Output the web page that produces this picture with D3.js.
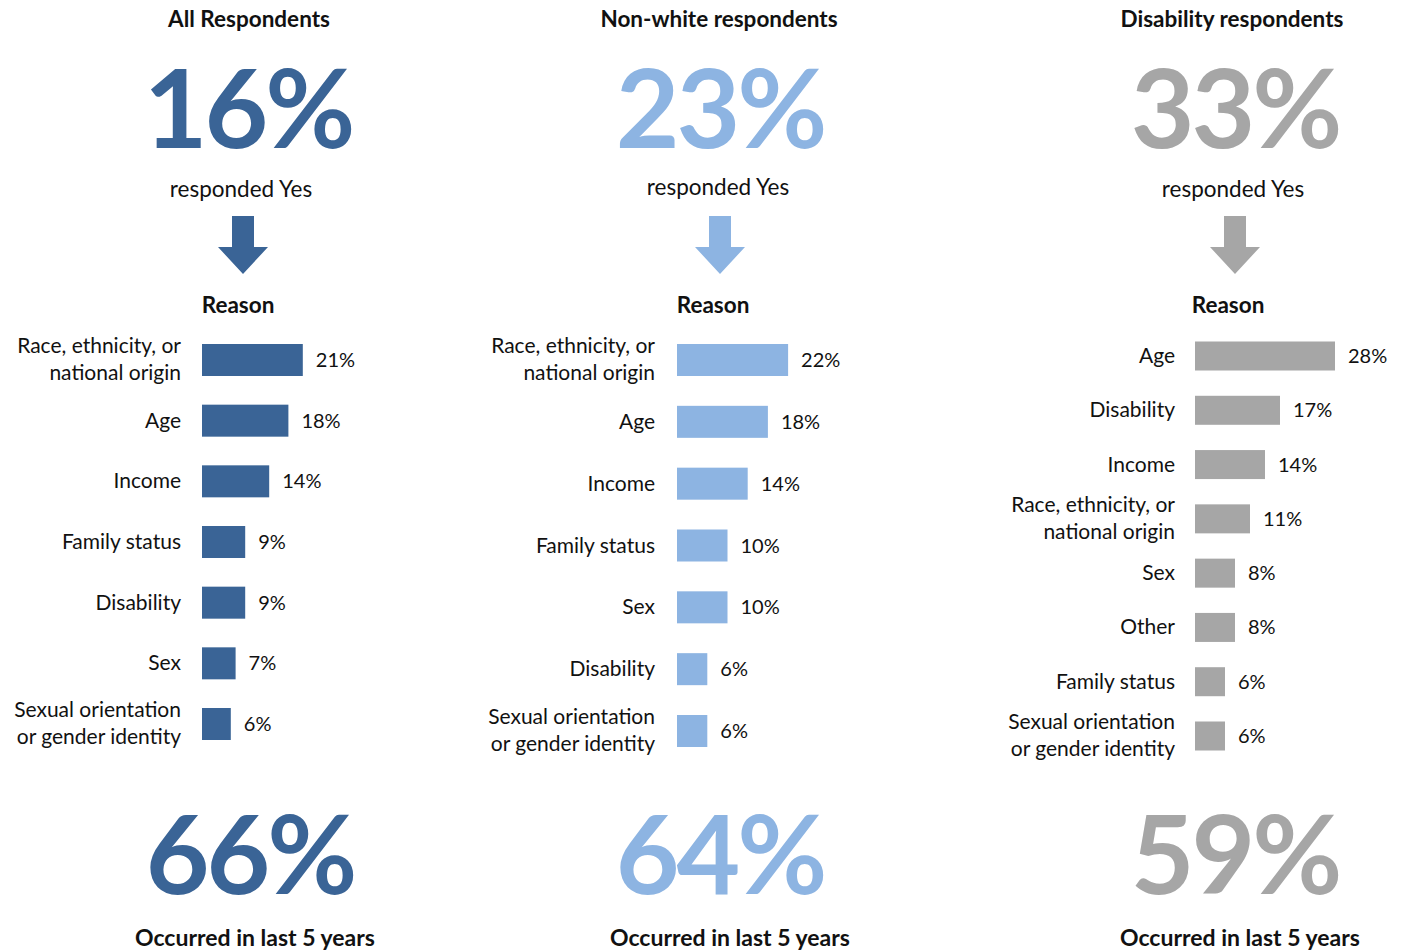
<!DOCTYPE html>
<html>
<head>
<meta charset="utf-8">
<script src="https://cdn.jsdelivr.net/npm/d3@7"></script>
<style>
  body { margin: 0; background: #fff; }
  svg { display: block; font-family: Lato, 'Open Sans', sans-serif; }
</style>
</head>
<body>
<svg id="chart" width="1403" height="952"></svg>
<script>
// survey groups
const titles = ['All Respondents', 'Non-white respondents', 'Disability respondents']
const respondedYes = [16, 23, 33]
const lastFiveYears = [66, 64, 59]
const colors = ['#3a6496', '#8db4e2', '#a6a6a6']

// reasons per group (label line breaks with \n)
const reasonsAll = ['Race, ethnicity, or\nnational origin', 'Age', 'Income', 'Family status', 'Disability', 'Sex', 'Sexual orientation\nor gender identity']
const valuesAll = [21, 18, 14, 9, 9, 7, 6]

const reasonsNonWhite = ['Race, ethnicity, or\nnational origin', 'Age', 'Income', 'Family status', 'Sex', 'Disability', 'Sexual orientation\nor gender identity']
const valuesNonWhite = [22, 18, 14, 10, 10, 6, 6]

const reasonsDisability = ['Age', 'Disability', 'Income', 'Race, ethnicity, or\nnational origin', 'Sex', 'Other', 'Family status', 'Sexual orientation\nor gender identity']
const valuesDisability = [28, 17, 14, 11, 8, 8, 6, 6]

const reasons = [reasonsAll, reasonsNonWhite, reasonsDisability]
const values = [valuesAll, valuesNonWhite, valuesDisability]

// layout of each panel
const layout = [
  { title: 249, big: 248, yes: 241, arrow: 243, reason: 238, bottom: 250, occ: 255, labelX: 181, barX: 202, pxPerPct: 4.8, rows: [360, 724], barH: 32 },
  { title: 719, big: 720, yes: 718, arrow: 720, reason: 713, bottom: 720, occ: 730, labelX: 655, barX: 677, pxPerPct: 5.05, rows: [360, 731], barH: 32 },
  { title: 1232, big: 1235, yes: 1233, arrow: 1235, reason: 1228, bottom: 1235, occ: 1240, labelX: 1175, barX: 1195, pxPerPct: 5.0, rows: [356, 736], barH: 29 }
]

const svg = d3.select('#chart')

/** Draw one of the three panels */
function drawPanel (i) {
  const L = layout[i]
  const g = svg.append('g')

  g.append('text')
    .attr('x', L.title).attr('y', 27)
    .attr('text-anchor', 'middle')
    .attr('font-size', 22.5).attr('font-weight', 700).attr('fill', '#111')
    .text(titles[i])

  g.append('text')
    .attr('x', L.big).attr('y', 148)
    .attr('text-anchor', 'middle')
    .attr('font-size', 110).attr('font-weight', 700).attr('fill', colors[i])
    .attr('letter-spacing', -3)
    .text(respondedYes[i] + '%')

  g.append('text')
    .attr('x', L.yes).attr('y', i === 1 ? 195 : 197)
    .attr('text-anchor', 'middle')
    .attr('font-size', 22.5).attr('fill', '#111')
    .text('responded Yes')

  // down arrow
  const ax = L.arrow
  g.append('path')
    .attr('d', `M${ax - 11},216 H${ax + 11} V247 H${ax + 25} L${ax},274 L${ax - 25},247 H${ax - 11} Z`)
    .attr('fill', colors[i])

  g.append('text')
    .attr('x', L.reason).attr('y', 313)
    .attr('text-anchor', 'middle')
    .attr('font-size', 22.5).attr('font-weight', 700).attr('fill', '#111')
    .text('Reason')

  const y = d3.scalePoint().domain(d3.range(values[i].length)).range(L.rows)
  const x = d3.scaleLinear().domain([0, 30]).range([L.barX, L.barX + 30 * L.pxPerPct])

  const rows = g.selectAll('g.row')
    .data(values[i].map((v, j) => ({ v, label: reasons[i][j], j })))
    .enter().append('g').attr('class', 'row')

  rows.append('rect')
    .attr('x', x(0))
    .attr('y', d => y(d.j) - L.barH / 2)
    .attr('width', d => x(d.v) - x(0))
    .attr('height', L.barH)
    .attr('fill', colors[i])

  rows.append('text')
    .attr('x', d => x(d.v) + 13)
    .attr('y', d => y(d.j) + 7)
    .attr('font-size', 20).attr('fill', '#111')
    .text(d => d.v + '%')

  rows.each(function (d) {
    const lines = d.label.split('\n')
    const t = d3.select(this).append('text')
      .attr('text-anchor', 'end')
      .attr('font-size', 21).attr('fill', '#111')
    lines.forEach((line, k) => {
      const off = lines.length === 1 ? 7 : (k === 0 ? -7 : 20)
      t.append('tspan').attr('x', L.labelX).attr('y', y(d.j) + off).text(line)
    })
  })

  g.append('text')
    .attr('x', L.bottom).attr('y', 894)
    .attr('text-anchor', 'middle')
    .attr('font-size', 110).attr('font-weight', 700).attr('fill', colors[i])
    .attr('letter-spacing', -3)
    .text(lastFiveYears[i] + '%')

  g.append('text')
    .attr('x', L.occ).attr('y', 946)
    .attr('text-anchor', 'middle')
    .attr('font-size', 23).attr('font-weight', 700).attr('fill', '#111')
    .text('Occurred in last 5 years')
}

titles.forEach((_, i) => drawPanel(i))
</script>
</body>
</html>
